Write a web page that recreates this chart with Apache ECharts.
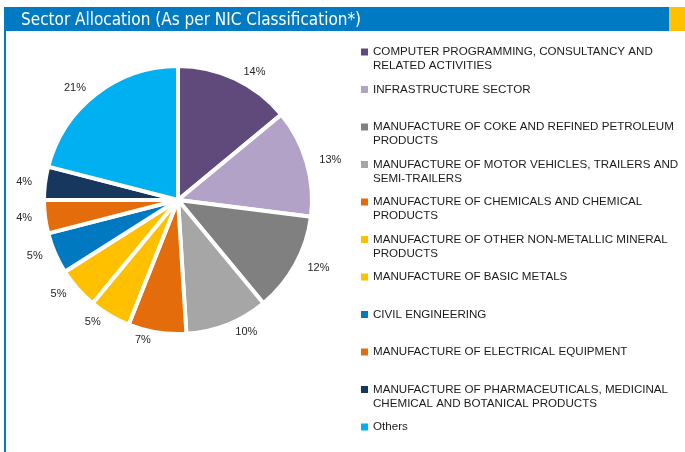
<!DOCTYPE html>
<html lang="en">
<head>
    <meta charset="UTF-8">
    <title>Sector Allocation</title>
    <script src="https://cdn.jsdelivr.net/npm/echarts@6/dist/echarts.min.js"></script>
    <style>
        html, body { margin: 0; padding: 0; background: #ffffff; }
        #chart { width: 685px; height: 452px; }
    </style>
</head>
<body>
<div id="chart"></div>
<script>
    // sectors in legend order (line breaks as in the legend)
    var sectors = [
        'COMPUTER PROGRAMMING, CONSULTANCY AND\nRELATED ACTIVITIES',
        'INFRASTRUCTURE SECTOR',
        'MANUFACTURE OF COKE AND REFINED PETROLEUM\nPRODUCTS',
        'MANUFACTURE OF MOTOR VEHICLES, TRAILERS AND\nSEMI-TRAILERS',
        'MANUFACTURE OF CHEMICALS AND CHEMICAL\nPRODUCTS',
        'MANUFACTURE OF OTHER NON-METALLIC MINERAL\nPRODUCTS',
        'MANUFACTURE OF BASIC METALS',
        'CIVIL ENGINEERING',
        'MANUFACTURE OF ELECTRICAL EQUIPMENT',
        'MANUFACTURE OF PHARMACEUTICALS, MEDICINAL\nCHEMICAL AND BOTANICAL PRODUCTS',
        'Others'
    ];
    // allocation in %
    var allocation = [14, 13, 12, 10, 7, 5, 5, 5, 4, 4, 21];
    var colors = ['#604a7b', '#b3a2c7', '#808080', '#a6a6a6', '#e46c0a', '#ffc000',
                  '#ffc000', '#0079c1', '#e46c0a', '#17375e', '#00b0f0'];

    var pieData = [];
    for (var i = 0; i < sectors.length; i++) {
        pieData.push({ name: sectors[i], value: allocation[i], itemStyle: { color: colors[i] } });
    }

    var chart = echarts.init(document.getElementById('chart'));
    var option = {
        animation: false,
        title: {
            text: 'Sector Allocation (As per NIC Classification*)',
            left: 16,
            top: 7,
            textStyle: {
                color: '#ffffff',
                fontSize: 17,
                fontWeight: 'normal',
                fontFamily: '"Liberation Sans Narrow", "DejaVu Sans Condensed", Roboto, sans-serif'
            }
        },
        graphic: [
            { type: 'rect', z: -1, shape: { x: 4, y: 7, width: 665, height: 24 }, style: { fill: '#007ac2' } },
            { type: 'rect', z: -1, shape: { x: 669, y: 7, width: 16, height: 24 }, style: { fill: '#ffc000' } },
            { type: 'rect', z: -1, shape: { x: 4, y: 31, width: 2, height: 421 }, style: { fill: '#007ac2' } }
        ],
        legend: {
            orient: 'vertical',
            left: 361,
            top: 31,
            padding: 0,
            icon: 'rect',
            itemWidth: 7,
            itemHeight: 7,
            itemGap: -4.5,
            selectedMode: false,
            itemStyle: { borderWidth: 0 },
            data: sectors,
            formatter: function (name) {
                // centre the first text line on the marker
                return name.indexOf('\n') >= 0 ? '\u00a0\n' + name : '\u00a0\n' + name + '\n\u00a0';
            },
            textStyle: {
                fontSize: 11.6,
                lineHeight: 14,
                color: '#1a1a1a',
                fontFamily: '"Liberation Sans", Arial, sans-serif'
            }
        },
        series: [{
            type: 'pie',
            center: [178, 200],
            radius: [0, 134],
            startAngle: 90,
            clockwise: true,
            data: pieData,
            itemStyle: { borderColor: '#ffffff', borderWidth: 4 },
            emphasis: { disabled: true },
            label: {
                position: 'outside',
                formatter: '{c}%',
                fontSize: 11,
                color: '#262626',
                fontFamily: '"Liberation Sans", Arial, sans-serif'
            },
            labelLine: { show: false, length: 8, length2: 0 }
        }]
    };
    chart.setOption(option);
</script>
</body>
</html>
